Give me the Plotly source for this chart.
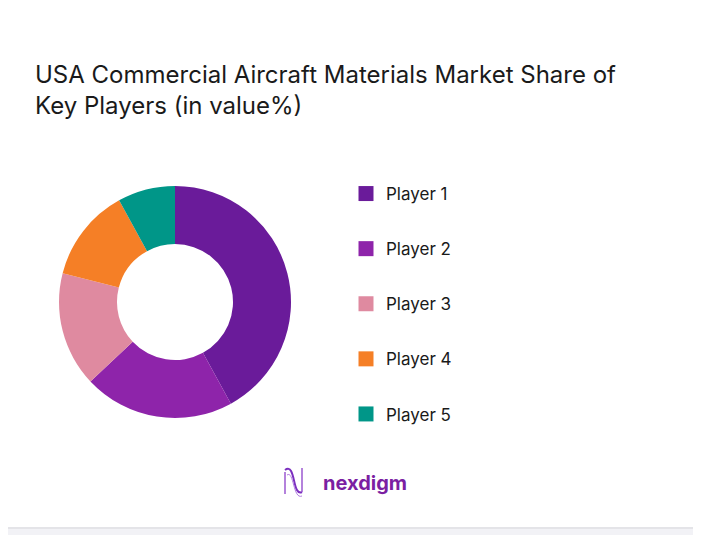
import plotly.graph_objects as go

# market share of key players (in value %)
players = ["Player 1", "Player 2", "Player 3", "Player 4", "Player 5"]
shares = [42, 21, 16, 13, 8]
colors = ["#6a1b9a", "#8e24aa", "#df8aa0", "#f57f26", "#009688"]

# page body has an 8px margin, so the figure is made smaller to fit the window
W, H = 693, 527
OFF = 8  # positions below in page pixels


def px_x(x):
    return (x - OFF) / W


def px_y(y):
    return 1 - (y - OFF) / H


fig = go.Figure()

# donut itself, legend drawn separately so the entries can be spaced out
fig.add_trace(go.Pie(
    labels=players,
    values=shares,
    marker=dict(colors=colors, line=dict(width=0)),
    hole=0.5,
    sort=False,
    direction="clockwise",
    rotation=0,
    textinfo="none",
    hoverinfo="label+percent",
    showlegend=False,
    domain=dict(x=[px_x(59), px_x(291)], y=[px_y(418), px_y(186)]),
))

# legend entries
for name, col in zip(players, colors):
    fig.add_trace(go.Scatter(
        x=[None], y=[None], mode="markers", name=name,
        marker=dict(symbol="square", size=15, color=col),
        legendgroup=name, showlegend=True,
    ))

fig.update_layout(
    width=W, height=H,
    margin=dict(l=0, r=0, t=0, b=0),
    paper_bgcolor="white",
    plot_bgcolor="white",
    title=dict(
        text="USA Commercial Aircraft Materials Market Share of<br>Key Players (in value%)",
        x=px_x(35), xanchor="left",
        y=px_y(83), yanchor="top",
        font=dict(family="Inter, Roboto, sans-serif", size=24, color="#1a1a1a"),
    ),
    xaxis=dict(visible=False),
    yaxis=dict(visible=False),
    legend=dict(
        x=px_x(346), xanchor="left",
        y=px_y(176), yanchor="top",
        tracegroupgap=30,
        font=dict(family="Inter, Roboto, sans-serif", size=17, color="#1a1a1a"),
        itemclick=False,
    ),
    shapes=[
        # grey strip along the bottom
        dict(type="rect", xref="paper", yref="paper", x0=0, x1=1,
             y0=0, y1=px_y(528), fillcolor="#f2f2f6", line=dict(width=0), layer="below"),
        dict(type="line", xref="paper", yref="paper", x0=0, x1=1,
             y0=px_y(528), y1=px_y(528), line=dict(color="#e4e4e8", width=2)),
        # logo wave
        dict(type="path", xref="paper", yref="paper",
             path=f"M {px_x(285)} {px_y(470)} C {px_x(296)} {px_y(462)}, {px_x(292)} {px_y(497)}, {px_x(302)} {px_y(492)}",
             line=dict(color="#7b2fbf", width=2)),
        dict(type="path", xref="paper", yref="paper",
             path=f"M {px_x(287)} {px_y(475)} C {px_x(294)} {px_y(470)}, {px_x(293)} {px_y(500)}, {px_x(302)} {px_y(496)}",
             line=dict(color="#b07ae0", width=1)),
        dict(type="path", xref="paper", yref="paper",
             path=f"M {px_x(285)} {px_y(472)} L {px_x(285)} {px_y(494)}",
             line=dict(color="#9b59d0", width=1.5)),
        dict(type="path", xref="paper", yref="paper",
             path=f"M {px_x(302)} {px_y(468)} L {px_x(302)} {px_y(492)}",
             line=dict(color="#9b59d0", width=1.5)),
    ],
    annotations=[
        dict(text="<b>nexdigm</b>", x=px_x(321), y=px_y(483), xref="paper", yref="paper",
             xanchor="left", yanchor="middle", showarrow=False,
             font=dict(family="Inter, Roboto, sans-serif", size=20, color="#7b1fa2")),
    ],
)

fig.write_html("out.html")
